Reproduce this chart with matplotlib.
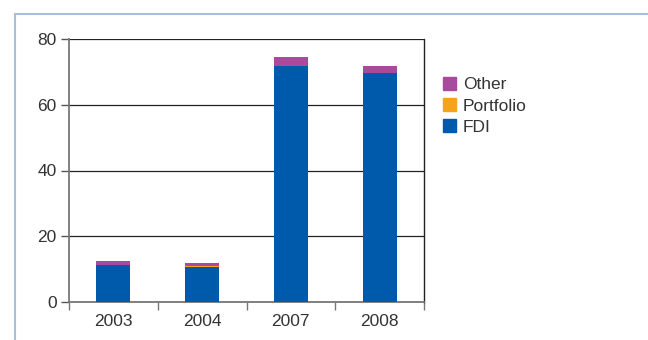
import matplotlib
matplotlib.use("Agg")
import matplotlib.pyplot as plt
from matplotlib.patches import Rectangle, Patch

years = ["2003", "2004", "2007", "2008"]
fdi = [11.3, 10.7, 71.8, 69.6]
portfolio = [0.0, 0.3, 0.0, 0.0]
other = [1.2, 0.9, 2.7, 2.2]
y_ticks = [0, 20, 40, 60, 80]

c_fdi = "#005aab"
c_port = "#f7a21b"
c_other = "#a84b9c"
txt = "#333333"
fs = 12.5

plt.rcParams["font.family"] = ["Liberation Sans", "DejaVu Sans"]

fig = plt.figure(figsize=(6.48, 3.4), dpi=100)
W, H = 648, 340

# light blue frame around the chart (open at right and bottom)
fig.add_artist(Rectangle((15 / W, -0.1), 1.2, (H - 14) / H + 0.1,
                         transform=fig.transFigure, fill=False,
                         edgecolor="#a9bedb", linewidth=1.5))

ax = fig.add_axes([69 / W, 1 - 302 / H, (424 - 69) / W, (302 - 39) / H])

x = list(range(len(years)))
w = 0.385
ax.bar(x, fdi, width=w, color=c_fdi, zorder=3)
ax.bar(x, portfolio, width=w, bottom=fdi, color=c_port, zorder=3)
bottom2 = [a + b for a, b in zip(fdi, portfolio)]
ax.bar(x, other, width=w, bottom=bottom2, color=c_other, zorder=3)

ax.set_xlim(-0.5, len(years) - 0.5)
ax.set_ylim(0, 80)
ax.set_yticks(y_ticks)
ax.set_yticklabels([str(v) for v in y_ticks], fontsize=fs, color=txt)
ax.yaxis.grid(True, color="#222222", linewidth=0.9, zorder=1)

ax.set_xticks(x)
ax.set_xticklabels(years, fontsize=fs, color=txt)
ax.tick_params(axis="x", length=0, pad=9)
ax.set_xticks([i - 0.5 for i in range(len(years) + 1)], minor=True)
ax.tick_params(axis="x", which="minor", length=6, width=1, color="#777777",
               direction="out")
ax.tick_params(axis="y", length=6, width=1, color="#555555", direction="out",
               pad=3)

for s in ("left", "bottom"):
    ax.spines[s].set_color("#777777")
    ax.spines[s].set_linewidth(1.3)
ax.spines["right"].set_color("#222222")
ax.spines["right"].set_linewidth(1.0)
ax.spines["top"].set_visible(False)

handles = [Patch(color=c_other), Patch(color=c_port), Patch(color=c_fdi)]
fig.legend(handles, ["Other", "Portfolio", "FDI"], loc="upper left",
           bbox_to_anchor=(443 / W, 1 - 77 / H), frameon=False,
           borderpad=0, borderaxespad=0,
           fontsize=fs, labelcolor=txt, handlelength=0.75,
           handleheight=0.75, handletextpad=0.4, labelspacing=0.33)

fig.savefig("out.png", dpi=100)
